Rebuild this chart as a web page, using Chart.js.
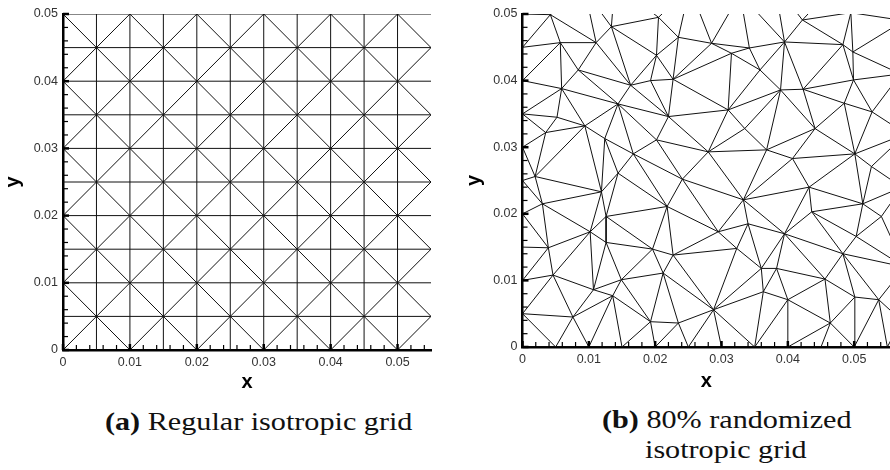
<!DOCTYPE html>
<html>
<head>
<meta charset="utf-8">
<script src="https://cdn.jsdelivr.net/npm/chart.js@4.4.1/dist/chart.umd.min.js"></script>
<style>
  body { margin: 0; background: #fff; width: 890px; height: 470px; position: relative; overflow: hidden; }
  .panel { position: absolute; top: 0; width: 445px; height: 400px; }
  #leftPanel { left: 0; }
  #rightPanel { left: 445px; }
  .cap { position: absolute; font-family: "Liberation Serif", serif; font-size: 26px; line-height: 26px; color: #111;
    white-space: nowrap; transform: scaleX(1.16); transform-origin: left center; }
  .cap b { font-weight: bold; }
</style>
</head>
<body>
<div class="panel" id="leftPanel"><canvas id="regularChart" width="445" height="400"></canvas></div>
<div class="panel" id="rightPanel"><canvas id="randomChart" width="445" height="400"></canvas></div>
<div class="cap" style="left:105px; top:409px;"><b>(a)</b> Regular isotropic grid</div>
<div class="cap" style="left:602px; top:407px;"><b>(b)</b> 80% randomized</div>
<div class="cap" style="left:645px; top:437px;">isotropic grid</div>

<script>
const tickValues = [0, 0.01, 0.02, 0.03, 0.04, 0.05]
const tickLabels = ["0", "0.01", "0.02", "0.03", "0.04", "0.05"]
const xMinorTicks = [0.002, 0.004, 0.006, 0.008, 0.012, 0.014, 0.016, 0.018, 0.022, 0.024, 0.026, 0.028,
  0.032, 0.034, 0.036, 0.038, 0.042, 0.044, 0.046, 0.048, 0.052, 0.054]
const yMinorTicks = [0.002, 0.004, 0.006, 0.008, 0.012, 0.014, 0.016, 0.018, 0.022, 0.024, 0.026, 0.028,
  0.032, 0.034, 0.036, 0.038, 0.042, 0.044, 0.046, 0.048]

// regular grid lines
const gridX = [0, 0.005, 0.01, 0.015, 0.02, 0.025, 0.03, 0.035, 0.04, 0.045, 0.05, 0.055]
const gridY = [0, 0.005, 0.01, 0.015, 0.02, 0.025, 0.03, 0.035, 0.04, 0.045, 0.05]

// randomized grid: fixed boundary nodes + moved nodes
const wallY = [0, 0.005, 0.01, 0.015, 0.02, 0.025, 0.03, 0.035, 0.04, 0.045, 0.05, 0.055]
const floorX = [0.005, 0.01, 0.015, 0.02, 0.025, 0.03, 0.035, 0.04, 0.045, 0.05, 0.055, 0.06]
const nodeX = [
  0.0042, 0.0057, 0.0111, 0.0134, 0.0084, 0.0059, 0.0202, 0.0205, 0.0235, 0.0193, 0.0227, 0.0163,
  0.0285, 0.0315, 0.0342, 0.0395, 0.0422, 0.0483, 0.0498, 0.0499, 0.0389, 0.0423, 0.0358, 0.0495,
  0.0052, 0.0094, 0.0144, 0.0035, 0.0124, 0.0167, 0.0202, 0.0220, 0.0019, 0.0144, 0.0310, 0.0335,
  0.0280, 0.0241, 0.0407, 0.0441, 0.0527, 0.0485, 0.0501, 0.0526, 0.0368,
  0.0119, 0.0030, 0.0126, 0.0102, 0.0126, 0.0039, 0.0196, 0.0218, 0.0333, 0.0432, 0.0513, 0.0436,
  0.0340, 0.0295, 0.0395, 0.0323, 0.0483, 0.0503, 0.0541,
  0.0046, 0.0107, 0.0136, 0.0149, 0.0212, 0.0227, 0.0076, 0.0193, 0.0235, 0.0383, 0.0360, 0.0456,
  0.0363, 0.0288, 0.0400, 0.0464, 0.0501, 0.0537,
  0.0094, 0.0139, 0.0252, 0.0328, 0.0380, 0.0463, 0.0523,
  0.0575, 0.0570, 0.0578, 0.0572, 0.0576, 0.0571, 0.0590
]
const nodeY = [
  0.0499, 0.0457, 0.0457, 0.0481, 0.0416, 0.0388, 0.0438, 0.0495, 0.0465, 0.0400, 0.0402, 0.0393,
  0.0456, 0.0441, 0.0449, 0.0458, 0.0491, 0.0454, 0.0443, 0.0401, 0.0386, 0.0387, 0.0416, 0.0502,
  0.0345, 0.0332, 0.0365, 0.0322, 0.0313, 0.0290, 0.0311, 0.0346, 0.0256, 0.0261, 0.0356, 0.0328,
  0.0293, 0.0252, 0.0283, 0.0328, 0.0353, 0.0366, 0.0290, 0.0271, 0.0296,
  0.0233, 0.0215, 0.0196, 0.0173, 0.0157, 0.0149, 0.0147, 0.0211, 0.0221, 0.0240, 0.0215, 0.0203,
  0.0185, 0.0173, 0.0170, 0.0148, 0.0140, 0.0166, 0.0196,
  0.0108, 0.0086, 0.0077, 0.0101, 0.0111, 0.0138, 0.0045, 0.0038, 0.0036, 0.0118, 0.0118, 0.0102,
  0.0083, 0.0056, 0.0071, 0.0036, 0.0075, 0.0071,
  0.0535, 0.0545, 0.0540, 0.0530, 0.0545, 0.0535, 0.0540,
  0.0490, 0.0410, 0.0320, 0.0240, 0.0120, 0.0040, 0.0540
]

function regularSegments() {
  const segs = []
  const xEnd = gridX[gridX.length - 1], yEnd = gridY[gridY.length - 1]
  gridY.slice(1).forEach((y) => segs.push([[0, y], [xEnd, y]]))
  gridX.slice(1, -1).forEach((x) => segs.push([[x, 0], [x, yEnd]]))
  for (let i = 0; i < gridX.length - 1; i++) {
    for (let j = 0; j < gridY.length - 1; j++) {
      if ((i + j) % 2 === 0) segs.push([[gridX[i], gridY[j]], [gridX[i + 1], gridY[j + 1]]])
      else segs.push([[gridX[i], gridY[j + 1]], [gridX[i + 1], gridY[j]]])
    }
  }
  return segs
}

// Bowyer-Watson triangulation of the node cloud
function randomSegments() {
  const pts = []
  wallY.forEach((y) => pts.push([0, y]))
  floorX.forEach((x) => pts.push([x, 0]))
  nodeX.forEach((x, i) => pts.push([x, nodeY[i]]))
  const n = pts.length
  pts.push([-1, -1], [2, -1], [0.5, 2])

  function makeTri(a, b, c) {
    const [ax, ay] = pts[a], [bx, by] = pts[b], [cx, cy] = pts[c]
    const d = 2 * (ax * (by - cy) + bx * (cy - ay) + cx * (ay - by))
    const a2 = ax * ax + ay * ay, b2 = bx * bx + by * by, c2 = cx * cx + cy * cy
    const ux = (a2 * (by - cy) + b2 * (cy - ay) + c2 * (ay - by)) / d
    const uy = (a2 * (cx - bx) + b2 * (ax - cx) + c2 * (bx - ax)) / d
    return { v: [a, b, c], ux, uy, r2: (ax - ux) ** 2 + (ay - uy) ** 2 }
  }

  let tris = [makeTri(n, n + 1, n + 2)]
  for (let i = 0; i < n; i++) {
    const [x, y] = pts[i]
    const bad = [], keep = []
    tris.forEach((t) => {
      if ((x - t.ux) ** 2 + (y - t.uy) ** 2 < t.r2 * (1 - 1e-10)) bad.push(t)
      else keep.push(t)
    })
    const count = new Map()
    bad.forEach((t) => {
      for (let k = 0; k < 3; k++) {
        const a = t.v[k], b = t.v[(k + 1) % 3]
        const key = a < b ? a + "," + b : b + "," + a
        count.set(key, (count.get(key) || 0) + 1)
      }
    })
    count.forEach((c, key) => {
      if (c === 1) {
        const [a, b] = key.split(",").map(Number)
        keep.push(makeTri(a, b, i))
      }
    })
    tris = keep
  }

  const edges = new Set()
  tris.forEach((t) => {
    if (t.v.some((v) => v >= n)) return
    for (let k = 0; k < 3; k++) {
      const a = t.v[k], b = t.v[(k + 1) % 3]
      edges.add(a < b ? a + "," + b : b + "," + a)
    }
  })
  return [...edges].map((key) => key.split(",").map(Number)).map(([a, b]) => [pts[a], pts[b]])
}

function toLineData(segs) {
  const data = []
  segs.forEach(([p, q]) => {
    data.push({ x: p[0], y: p[1] }, { x: q[0], y: q[1] }, { x: null, y: null })
  })
  return data
}

const innerTicks = {
  id: "innerTicks",
  afterDatasetsDraw(chart) {
    const { ctx, scales: { x, y } } = chart
    const x0 = x.getPixelForValue(0), y0 = y.getPixelForValue(0)
    ctx.save()
    ctx.strokeStyle = "#000"
    const tick = (v, len, w, horiz) => {
      ctx.lineWidth = w
      ctx.beginPath()
      if (horiz) {
        const px = x.getPixelForValue(v)
        ctx.moveTo(px, y0); ctx.lineTo(px, y0 - len)
      } else {
        const py = y.getPixelForValue(v)
        ctx.moveTo(x0, py); ctx.lineTo(x0 + len, py)
      }
      ctx.stroke()
    }
    xMinorTicks.forEach((v) => tick(v, 5, 1.2, true))
    yMinorTicks.forEach((v) => tick(v, 5, 1.2, false))
    tickValues.forEach((v) => { tick(v, 6, 2.5, true); tick(v, 6, 2.5, false) })
    ctx.restore()
  },
}

function makeChart(id, segs, o) {
  const labelFont = { family: "'Liberation Sans', Arial, sans-serif", size: 12.5 }
  const titleFont = { family: "'Liberation Sans', Arial, sans-serif", size: 20, weight: "bold" }
  return new Chart(document.getElementById(id), {
    type: "line",
    data: {
      datasets: [{
        data: toLineData(segs),
        borderColor: "#111",
        borderWidth: 1,
        pointRadius: 0,
        tension: 0,
        spanGaps: false,
      }],
    },
    options: {
      responsive: false,
      animation: false,
      events: [],
      layout: { padding: { left: 0, right: o.rightPad, top: 14, bottom: 0 } },
      plugins: { legend: { display: false }, tooltip: { enabled: false } },
      scales: {
        x: {
          type: "linear",
          min: 0,
          max: o.xMax,
          grid: { display: false, drawTicks: false },
          border: { display: true, color: "#000", width: 2.5 },
          afterBuildTicks: (s) => { s.ticks = tickValues.map((v) => ({ value: v })) },
          afterFit: (s) => { s.height = o.xHeight },
          ticks: {
            callback: (v, i) => tickLabels[i],
            font: labelFont, color: "#333", padding: 5, maxRotation: 0, autoSkip: false,
          },
          title: { display: true, text: "x", font: titleFont, color: "#000", padding: { top: 0, bottom: o.xTitlePad } },
        },
        y: {
          type: "linear",
          min: 0,
          max: 0.05,
          grid: { display: false, drawTicks: false },
          border: { display: true, color: "#000", width: 2.5 },
          afterBuildTicks: (s) => { s.ticks = tickValues.map((v) => ({ value: v })) },
          afterFit: (s) => { s.width = o.yWidth },
          ticks: {
            callback: (v, i) => tickLabels[i],
            font: labelFont, color: "#333", padding: 5, autoSkip: false,
          },
          title: { display: true, text: "y", font: titleFont, color: "#000", padding: { top: o.yTitlePad, bottom: 0 } },
        },
      },
    },
    plugins: [innerTicks],
  })
}

makeChart("regularChart", regularSegments(), { xMax: 0.055, rightPad: 14, xHeight: 50, yWidth: 63, xTitlePad: 6, yTitlePad: 1.5 })
makeChart("randomChart", randomSegments(), { xMax: 0.0554, rightPad: 0, xHeight: 53, yWidth: 77.5, xTitlePad: 7, yTitlePad: 17 })
</script>
</body>
</html>
